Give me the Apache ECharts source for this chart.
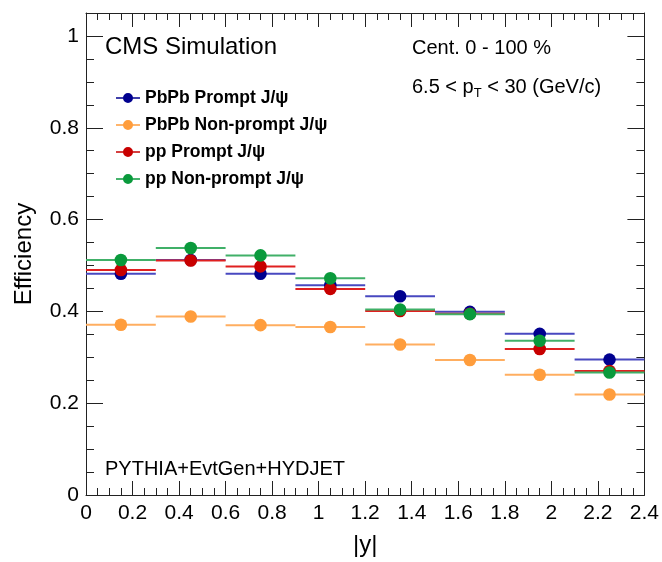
<!DOCTYPE html>
<html>
<head>
<meta charset="utf-8">
<script src="https://cdn.jsdelivr.net/npm/echarts@6/dist/echarts.min.js"></script>
<style>html,body{margin:0;padding:0;background:#fff}#c{width:662px;height:562px}</style>
</head>
<body>
<div id="c"></div>
<script>
// ---- data ----
var binCenters = [0.15, 0.45, 0.75, 1.05, 1.35, 1.65, 1.95, 2.25];
var binHalfWidths = [0.15, 0.15, 0.15, 0.15, 0.15, 0.15, 0.15, 0.15];
var pbpbPrompt    = [0.482, 0.512, 0.482, 0.457, 0.433, 0.399, 0.351, 0.295];
var pbpbNonPrompt = [0.371, 0.389, 0.370, 0.366, 0.328, 0.294, 0.262, 0.219];
var ppPrompt      = [0.490, 0.511, 0.498, 0.449, 0.401, 0.395, 0.318, 0.270];
var ppNonPrompt   = [0.512, 0.538, 0.522, 0.472, 0.404, 0.394, 0.336, 0.267];
var seriesNames = ['PbPb Prompt J/\u03c8', 'PbPb Non-prompt J/\u03c8', 'pp Prompt J/\u03c8', 'pp Non-prompt J/\u03c8'];
var seriesValues = [pbpbPrompt, pbpbNonPrompt, ppPrompt, ppNonPrompt];
var markerColors = ['#00008f', '#ff9d3c', '#c80000', '#0a9a3c'];
var lineColors   = ['#4848c0', '#ffae60', '#e02020', '#40b068'];

var FONT = '"Liberation Sans", Arial, Helvetica, sans-serif';

function makeSeries(i) {
  var data = binCenters.map(function (x, k) { return [x, seriesValues[i][k], binHalfWidths[k]]; });
  return {
    type: 'custom',
    name: seriesNames[i],
    xAxisIndex: 0, yAxisIndex: 0,
    itemStyle: { color: markerColors[i] },
    encode: { x: 0, y: 1 },
    data: data,
    z: 10 + i,
    renderItem: function (params, api) {
      var x = api.value(0), y = api.value(1), e = api.value(2);
      var p0 = api.coord([x - e, y]);
      var p1 = api.coord([x + e, y]);
      var pc = api.coord([x, y]);
      return {
        type: 'group',
        children: [
          { type: 'line', shape: { x1: p0[0], y1: p0[1], x2: p1[0], y2: p1[1] },
            style: { stroke: lineColors[i], lineWidth: 2 } },
          { type: 'circle', shape: { cx: pc[0], cy: pc[1], r: 6.3 },
            style: { fill: markerColors[i] } }
        ]
      };
    }
  };
}

var axisLineStyle = { color: '#222', width: 1 };
function xAx(pos, interval, tickLen, labels, line) {
  return {
    type: 'value', position: pos, min: 0, max: 2.4, interval: interval,
    axisLine: { show: line, onZero: false, lineStyle: axisLineStyle },
    axisTick: { show: true, inside: true, length: tickLen, lineStyle: axisLineStyle },
    axisLabel: { show: labels, margin: 8, fontSize: 21, color: '#000', fontFamily: FONT },
    splitLine: { show: false },
    name: labels ? '|y|' : '', nameLocation: 'middle', nameGap: 38,
    nameTextStyle: { fontSize: 24, color: '#000', fontFamily: FONT }
  };
}
function yAx(pos, interval, tickLen, labels, line) {
  return {
    type: 'value', position: pos, min: 0, max: 1.05, interval: interval,
    axisLine: { show: line, onZero: false, lineStyle: axisLineStyle },
    axisTick: { show: true, inside: true, length: tickLen, lineStyle: axisLineStyle },
    axisLabel: { show: labels, margin: 7, fontSize: 21, color: '#000', fontFamily: FONT, showMaxLabel: false },
    splitLine: { show: false },
    name: labels ? 'Efficiency' : '', nameLocation: 'middle', nameGap: 50,
    nameTextStyle: { fontSize: 24, color: '#000', fontFamily: FONT }
  };
}

var chart = echarts.init(document.getElementById('c'), null, { renderer: 'canvas' });
chart.setOption({
  animation: false,
  backgroundColor: '#fff',
  grid: { left: 86, right: 17, top: 13, bottom: 62, containLabel: false },
  xAxis: [
    xAx('bottom', 0.2, 14, true, true),
    xAx('bottom', 0.05, 7, false, false),
    xAx('top', 0.2, 14, false, true),
    xAx('top', 0.05, 7, false, false)
  ],
  yAxis: [
    yAx('left', 0.2, 17, true, true),
    yAx('left', 0.05, 8, false, false),
    yAx('right', 0.2, 17, false, true),
    yAx('right', 0.05, 8, false, false)
  ],
  legend: {
    orient: 'vertical', left: 111, top: 84,
    itemWidth: 24, itemHeight: 10, itemGap: 9,
    icon: 'path://M0,4.3H24V5.7H0Z M17,5A5,5 0 1,1 7,5A5,5 0 1,1 17,5Z',
    textStyle: { fontSize: 17.5, fontWeight: 'bold', color: '#000', fontFamily: FONT, lineHeight: 17.5 },
    data: seriesNames
  },
  graphic: [
    { type: 'text', left: 105, top: 35, style: { text: 'CMS Simulation', font: '24px ' + FONT, fill: '#000' } },
    { type: 'text', left: 412, top: 38, style: { text: 'Cent. 0 - 100 %', font: '20px ' + FONT, fill: '#000' } },
    { type: 'text', left: 412, top: 77, style: {
        text: '{a|6.5 < p}{s|T}{a| < 30 (GeV/c)}',
        rich: {
          a: { fontSize: 20, fontFamily: FONT, fill: '#000', lineHeight: 26 },
          s: { fontSize: 13, fontFamily: FONT, fill: '#000', lineHeight: 12, verticalAlign: 'bottom' }
        } } },
    { type: 'text', left: 105, top: 459, style: { text: 'PYTHIA+EvtGen+HYDJET', font: '20px ' + FONT, fill: '#000' } }
  ],
  series: [0, 1, 2, 3].map(makeSeries)
});
</script>
</body>
</html>
